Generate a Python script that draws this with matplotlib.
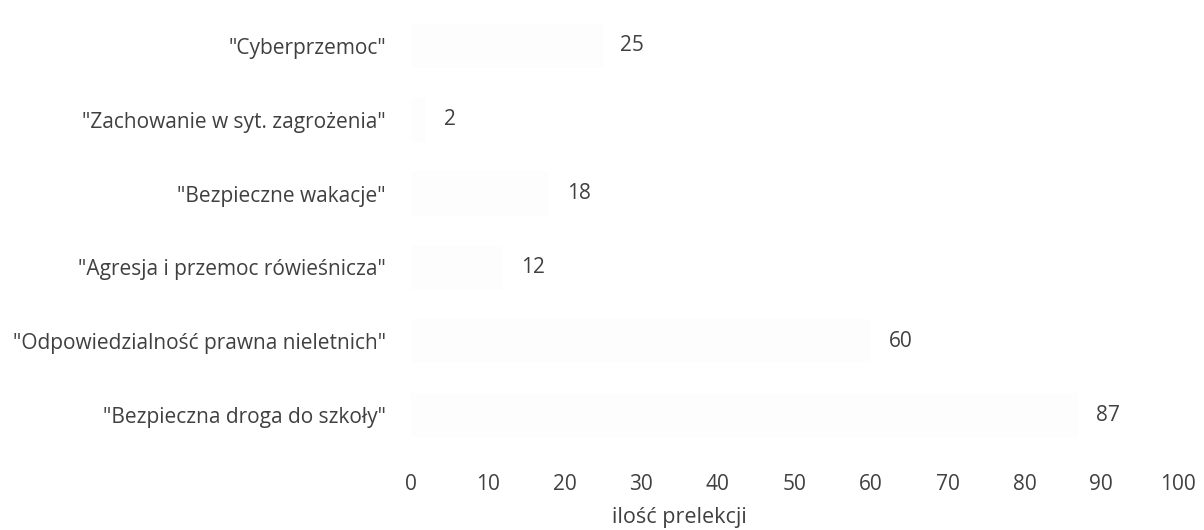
import matplotlib
matplotlib.use("Agg")
import matplotlib.pyplot as plt

categories = ['"Cyberprzemoc"', '"Zachowanie w syt. zagrożenia"', '"Bezpieczne wakacje"',
              '"Agresja i przemoc rówieśnicza"', '"Odpowiedzialność prawna nieletnich"',
              '"Bezpieczna droga do szkoły"']
values = [25, 2, 18, 12, 60, 87]
xticks = [0, 10, 20, 30, 40, 50, 60, 70, 80, 90, 100]
xlabel = "ilość prelekcji"

plt.rcParams['font.family'] = ['Open Sans', 'DejaVu Sans']
txt = '#404040'

fig = plt.figure(figsize=(12.04, 5.30), dpi=100)
ax = fig.add_axes([0.3414, 0.147, 0.637, 0.836])
y = list(range(len(categories)))
ax.barh(y, values, height=0.6, color='#fdfdfd', edgecolor='none')
for yi, v in zip(y, values):
    ax.text(v + 2.3, yi, str(v), va='center', ha='left', fontsize=15, color=txt)
ax.set_yticks(y)
ax.set_yticklabels(categories, fontsize=15, color=txt)
ax.set_ylim(5.5, -0.5)
ax.set_xlim(0, 100)
ax.set_xticks(xticks)
ax.set_xticklabels([str(t) for t in xticks], fontsize=15, color=txt)
ax.set_xlabel(xlabel, fontsize=15.5, color=txt, va='center')
ax.xaxis.set_label_coords(0.35, -0.147)
ax.tick_params(axis='both', length=0)
ax.tick_params(axis='x', pad=16)
ax.tick_params(axis='y', pad=18)
for s in ax.spines.values():
    s.set_visible(False)
fig.savefig("out.png", dpi=100, facecolor='white')
